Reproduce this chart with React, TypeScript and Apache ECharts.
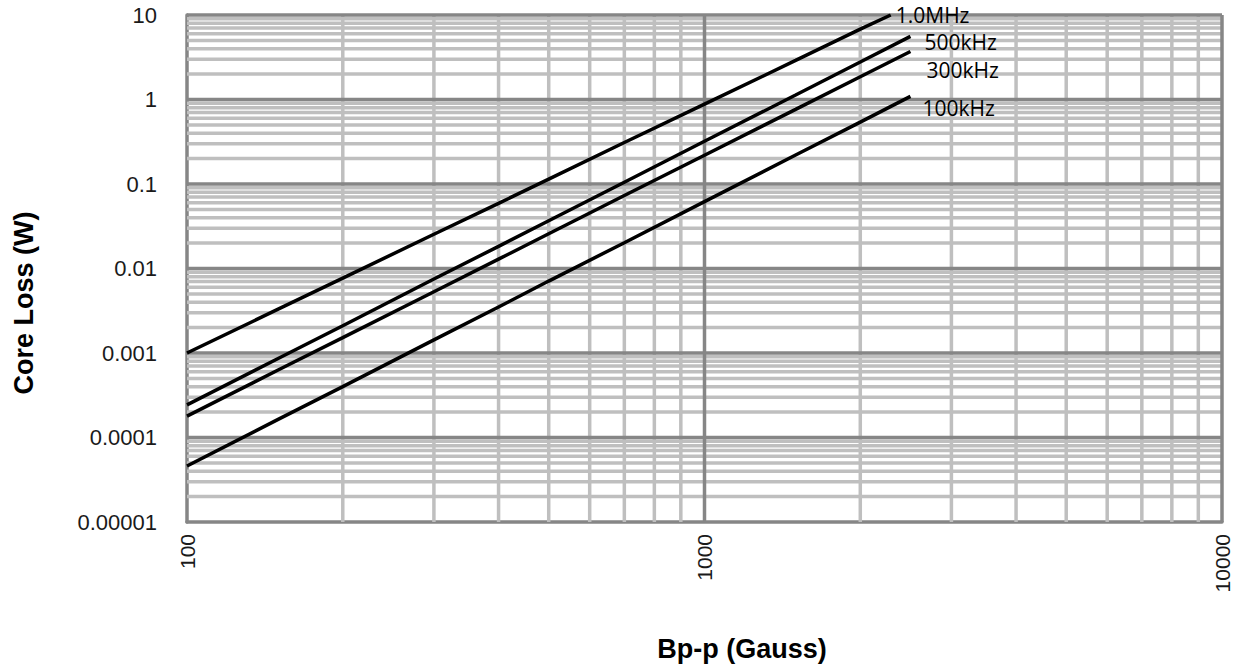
import React, { useEffect, useRef } from "react";
import * as echarts from "echarts";

// Flux density (Gauss) at which values were read
const bFlux = [100, 150, 200, 300, 400, 500, 700, 1000, 1500, 2000, 2500];
const bFlux1MHz = [100, 150, 200, 300, 400, 500, 700, 1000, 1500, 2000, 2290];

// Core loss (W)
const loss1MHz = [0.001, 0.0033, 0.0077, 0.0254, 0.059, 0.114, 0.31, 0.88, 2.9, 6.8, 10];
const loss500k = [0.000243, 0.00086, 0.0021, 0.0075, 0.0183, 0.0368, 0.105, 0.32, 1.13, 2.78, 5.58];
const loss300k = [0.000179, 0.00063, 0.00152, 0.0053, 0.0129, 0.0258, 0.073, 0.219, 0.765, 1.86, 3.7];
const loss100k = [0.000046, 0.000164, 0.0004, 0.00143, 0.0035, 0.0071, 0.0202, 0.0618, 0.22, 0.54, 1.09];

const seriesNames = ["1.0MHz", "500kHz", "300kHz", "100kHz"];

// Gridline values
const yDecades = [0.00001, 0.0001, 0.001, 0.01, 0.1, 1, 10];
const xDecades = [100, 1000, 10000];
const minorMultipliers = [2, 3, 4, 5, 6, 7, 8, 9];

const MINOR = "#bfbfbf";
const MAJOR = "#868686";

export default function App() {
  const ref = useRef<HTMLDivElement>(null);

  useEffect(() => {
    if (!ref.current) return;
    const chart = echarts.init(ref.current, null, { renderer: "svg" });

    const yMinor: number[] = [];
    yDecades.slice(0, -1).forEach((d) => minorMultipliers.forEach((m) => yMinor.push(d * m)));
    const xMinor: number[] = [];
    xDecades.slice(0, -1).forEach((d) => minorMultipliers.forEach((m) => xMinor.push(d * m)));

    const xMin = xDecades[0];
    const yMin = yDecades[0];

    const zip = (xs: number[], ys: number[]) => xs.map((x, i) => [x, ys[i]]);

    const gridSeries = (name: string, horizontal: boolean, values: number[], color: string, z: number) => ({
      name,
      type: "custom",
      silent: true,
      z,
      encode: { x: 0, y: 1 },
      data: values.map((v) => (horizontal ? [xMin, v] : [v, yMin])),
      renderItem: (params: any, api: any) => {
        const cs = params.coordSys;
        const p = api.coord([api.value(0), api.value(1)]);
        const shape = horizontal
          ? { x1: cs.x, y1: p[1], x2: cs.x + cs.width, y2: p[1] }
          : { x1: p[0], y1: cs.y, x2: p[0], y2: cs.y + cs.height };
        return { type: "line", shape, style: { stroke: color, lineWidth: 3.5 } };
      },
    });

    const curve = (name: string, xs: number[], ys: number[], offset: number[]) => ({
      name,
      type: "line",
      data: zip(xs, ys),
      symbol: "none",
      showSymbol: false,
      z: 5,
      lineStyle: { color: "#000", width: 3.5 },
      endLabel: {
        show: true,
        formatter: name,
        distance: 0,
        offset,
        align: "left",
        verticalAlign: "middle",
        fontFamily: "Open Sans",
        fontSize: 21,
        color: "#000",
      },
    });

    const option: any = {
      animation: false,
      grid: { left: 187, right: 16, top: 15, bottom: 144, containLabel: false },
      xAxis: {
        type: "log",
        logBase: 10,
        min: 100,
        max: 10000,
        axisLine: { show: true, lineStyle: { color: MAJOR, width: 3.5 } },
        axisTick: { show: false },
        splitLine: { show: false },
        minorTick: { show: false },
        axisLabel: {
          rotate: 90,
          margin: 12,
          fontFamily: "Liberation Sans",
          fontSize: 21,
          color: "#1a1a1a",
          formatter: (v: number) => String(Math.round(v)),
        },
      },
      yAxis: {
        type: "log",
        logBase: 10,
        min: 0.00001,
        max: 10,
        axisLine: { show: true, lineStyle: { color: MAJOR, width: 3.5 } },
        axisTick: { show: false },
        splitLine: { show: false },
        minorTick: { show: false },
        axisLabel: {
          margin: 30,
          fontFamily: "Liberation Sans",
          fontSize: 22,
          color: "#1a1a1a",
          formatter: (v: number) => {
            if (v >= 1) return String(Math.round(v));
            const p = Math.round(-Math.log10(v));
            return v.toFixed(p);
          },
        },
      },
      graphic: [
        {
          type: "text",
          x: 24,
          y: 303,
          rotation: Math.PI / 2,
          style: {
            text: "Core Loss (W)",
            fontFamily: "Liberation Sans",
            fontWeight: "bold",
            fontSize: 27,
            fill: "#000",
            textAlign: "center",
            textVerticalAlign: "middle",
          },
        },
        {
          type: "text",
          x: 742,
          y: 649,
          style: {
            text: "Bp-p (Gauss)",
            fontFamily: "Liberation Sans",
            fontWeight: "bold",
            fontSize: 27,
            fill: "#000",
            textAlign: "center",
            textVerticalAlign: "middle",
          },
        },
      ],
      series: [
        gridSeries("minor-h", true, yMinor, MINOR, 1),
        gridSeries("minor-v", false, xMinor, MINOR, 1),
        gridSeries("major-h", true, yDecades.slice(1), MAJOR, 2),
        gridSeries("major-v", false, xDecades.slice(1), MAJOR, 2),
        curve(seriesNames[0], bFlux1MHz, loss1MHz, [5, 0]),
        curve(seriesNames[1], bFlux, loss500k, [14, 6]),
        curve(seriesNames[2], bFlux, loss300k, [16, 19]),
        curve(seriesNames[3], bFlux, loss100k, [12, 12]),
      ],
    };

    chart.setOption(option);
    return () => chart.dispose();
  }, []);

  return (
    <div
      ref={ref}
      style={{ position: "absolute", left: 0, top: 0, width: 1238, height: 666 }}
    />
  );
}
